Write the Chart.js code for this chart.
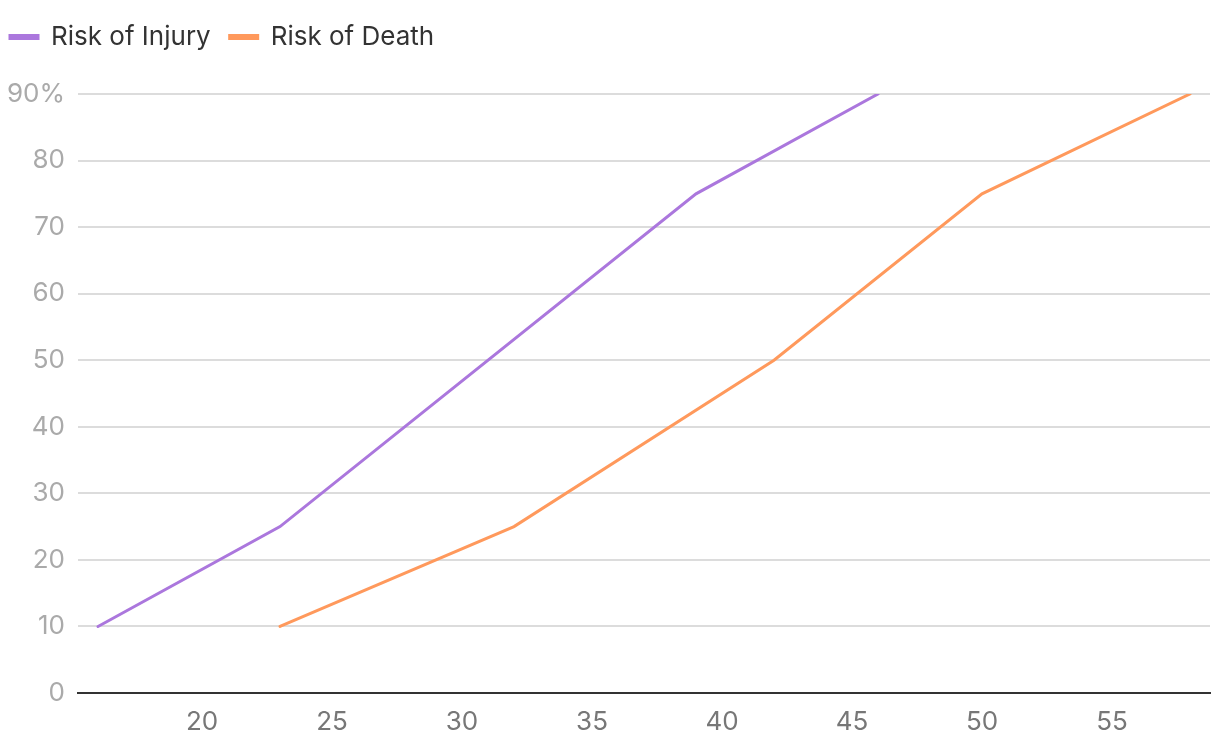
<!DOCTYPE html>
<html>
<head>
<meta charset="utf-8">
<script src="https://cdn.jsdelivr.net/npm/chart.js@4.4.0/dist/chart.umd.min.js"></script>
<style>
  html, body { margin: 0; padding: 0; background: #fff; }
  canvas { display: block; }
</style>
</head>
<body>
<canvas id="riskChart" width="1220" height="754"></canvas>
<script>
// speed (x) vs risk % (y)
const injurySpeed = [16, 23, 39, 46];
const injuryRisk = [10, 25, 75, 90];
const deathSpeed = [23, 32, 42, 50, 58];
const deathRisk = [10, 25, 50, 75, 90];
const xTicks = [20, 25, 30, 35, 40, 45, 50, 55];
const yTicks = [0, 10, 20, 30, 40, 50, 60, 70, 80, 90];

const purple = '#ab77dd';
const orange = '#ff995c';
const fontFamily = 'Inter, "Noto Sans", sans-serif';

const toPoints = (xs, ys) => xs.map((x, i) => ({ x: x, y: ys[i] }));

// legend takes the space down to the top grid line
const legendHeight = {
  id: 'legendHeight',
  beforeInit(chart) {
    const fit = chart.legend.fit;
    chart.legend.fit = function () {
      fit.call(this);
      this.height = 89;
    };
  }
};

const ctx = document.getElementById('riskChart').getContext('2d');
new Chart(ctx, {
  type: 'line',
  data: {
    datasets: [{
      label: 'Risk of Injury',
      data: toPoints(injurySpeed, injuryRisk),
      borderColor: purple,
      backgroundColor: purple,
      borderWidth: 3,
      borderCapStyle: 'round',
      pointRadius: 0,
      tension: 0,
      fill: false
    }, {
      label: 'Risk of Death',
      data: toPoints(deathSpeed, deathRisk),
      borderColor: orange,
      backgroundColor: orange,
      borderWidth: 3,
      borderCapStyle: 'round',
      pointRadius: 0,
      tension: 0,
      fill: false
    }]
  },
  options: {
    responsive: false,
    animation: false,
    layout: { padding: { top: 5, right: 10, left: -9, bottom: 0 } },
    plugins: {
      tooltip: { enabled: false },
      legend: {
        position: 'top',
        align: 'start',
        labels: {
          boxWidth: 28,
          boxHeight: 3,
          padding: 19,
          color: '#333',
          font: { family: fontFamily, size: 26 }
        }
      }
    },
    scales: {
      x: {
        type: 'linear',
        min: 15.23,
        max: 58.77,
        afterBuildTicks(scale) {
          scale.ticks = xTicks.map(v => ({ value: v }));
        },
        afterFit(scale) { scale.height = 61; },
        grid: { display: false, drawTicks: false },
        border: { display: true, color: '#333', width: 2 },
        ticks: {
          padding: 14,
          color: '#777',
          maxRotation: 0,
          font: { family: fontFamily, size: 26 }
        }
      },
      y: {
        min: 0,
        max: 90,
        afterBuildTicks(scale) {
          scale.ticks = yTicks.map(v => ({ value: v }));
        },
        afterFit(scale) { scale.width = 87; },
        grid: { color: '#dcdcdc', lineWidth: 2, drawTicks: false },
        border: { display: false },
        ticks: {
          padding: 13,
          color: '#aaa',
          font: { family: fontFamily, size: 26 },
          callback: v => v === 90 ? '90%' : String(v)
        }
      }
    }
  },
  plugins: [legendHeight]
});
</script>
</body>
</html>
